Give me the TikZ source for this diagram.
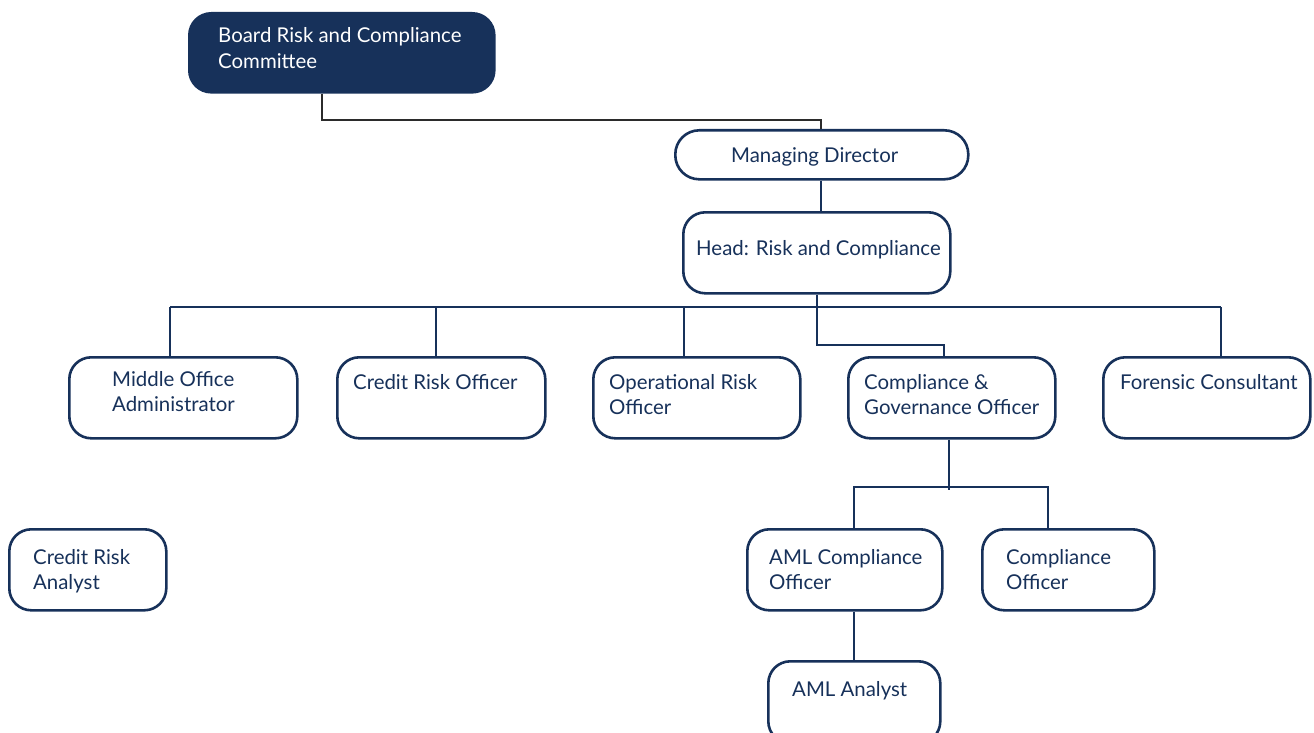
\documentclass[tikz,border=0pt]{standalone}
\usepackage{fontspec}
\setmainfont{Lato}
\usetikzlibrary{positioning}
\definecolor{navy}{HTML}{17315A}
\definecolor{linkgray}{HTML}{2B2B2B}

\begin{document}
\begin{tikzpicture}[x=1pt,y=-1pt,
    post/.style={draw=navy,line width=2.6pt,rounded corners=22pt,fill=white,
                 anchor=north west,inner sep=0pt},
    txt/.style={anchor=base west,align=left,text=navy,inner sep=0pt,
                font=\fontsize{20.4}{25.5}\selectfont},
    link/.style={draw=navy,line width=2pt}]

  \useasboundingbox (0,0) rectangle (1314,733);
  \clip (0,0) rectangle (1314,733);

  % boxes
  \node[post,fill=navy,minimum width=305pt,minimum height=79pt] (board) at (188,12) {};
  \node[post,rounded corners=24pt,minimum width=293pt,minimum height=49pt] (md) at (674,129) {};
  \node[post,minimum width=267pt,minimum height=81pt] (head) at (682,211) {};

  \node[post,minimum width=228pt,minimum height=81pt] (mid) at (68,356) {};
  \node[post,minimum width=208pt,minimum height=81pt] (cro) at (336,356) {};
  \node[post,minimum width=207pt,minimum height=81pt] (oro) at (592,356) {};
  \node[post,minimum width=207pt,minimum height=81pt] (cgo) at (847,356) {};
  \node[post,minimum width=207pt,minimum height=81pt] (fc) at (1102,356) {};

  \node[post,minimum width=157pt,minimum height=81pt] (cra) at (8,528) {};
  \node[post,minimum width=195pt,minimum height=81pt] (amlco) at (746,528) {};
  \node[post,minimum width=172pt,minimum height=81pt] (co) at (981,528) {};
  \node[post,minimum width=172pt,minimum height=82pt] (amla) at (767,660) {};

  % texts (base = baseline of the last line)
  \node[txt,text=white,xshift=30pt,yshift=-56.5pt] (boardT) at (board.north west) {Board Risk and Compliance\\Committee};
  \node[txt,xshift=57pt,yshift=-33pt] (mdT) at (md.north west) {Managing Director};
  \node[txt,xshift=14pt,yshift=-44pt] (headT) at (head.north west) {Head: Risk and Compliance};
  \node[txt,xshift=44pt,yshift=-55.5pt] (midT) at (mid.north west) {Middle Office\\Administrator};
  \node[txt,xshift=17pt,yshift=-33pt] (croT) at (cro.north west) {Credit Risk Officer};
  \node[txt,xshift=17pt,yshift=-58.5pt] (oroT) at (oro.north west) {Operational Risk\\Officer};
  \node[txt,xshift=17pt,yshift=-58.5pt] (cgoT) at (cgo.north west) {Compliance \&\\Governance Officer};
  \node[txt,xshift=18pt,yshift=-33pt] (fcT) at (fc.north west) {Forensic Consultant};
  \node[txt,xshift=25pt,yshift=-61.5pt] (craT) at (cra.north west) {Credit Risk\\Analyst};
  \node[txt,xshift=23pt,yshift=-61.5pt] (amlcoT) at (amlco.north west) {AML Compliance\\Officer};
  \node[txt,xshift=25pt,yshift=-61.5pt] (coT) at (co.north west) {Compliance\\Officer};
  \node[txt,xshift=25pt,yshift=-36pt] (amlaT) at (amla.north west) {AML Analyst};

  % connectors
  \draw[link,draw=linkgray] ([xshift=134pt]board.south west) -- ++(0,26) -| ([xshift=-1pt]md.north);
  \draw[link] ([xshift=-1pt]md.south) -- ([xshift=-1pt]md.south |- head.north);

  \coordinate (busL) at (170,307);
  \coordinate (busR) at (1221,307);
  \draw[link] (busL) -- (busR);
  \draw[link] (busL) -- (busL |- mid.north);
  \draw[link] ([xshift=-5pt]cro.north) -- ([xshift=-5pt]cro.north |- busL);
  \draw[link] ([xshift=-13pt]oro.north) -- ([xshift=-13pt]oro.north |- busL);
  \draw[link] (busR) -- (busR |- fc.north);
  \draw[link] (head.south) -- ++(0,50) -| ([xshift=-8pt]cgo.north);

  \draw[link] ([xshift=-3pt]cgo.south) -- ++(0,50);
  \draw[link] ([xshift=9pt]amlco.north) -- ++(0,-41) -| ([xshift=-20pt]co.north);
  \draw[link] ([xshift=9pt]amlco.south) -- ([xshift=9pt]amlco.south |- amla.north);
\end{tikzpicture}
\end{document}
